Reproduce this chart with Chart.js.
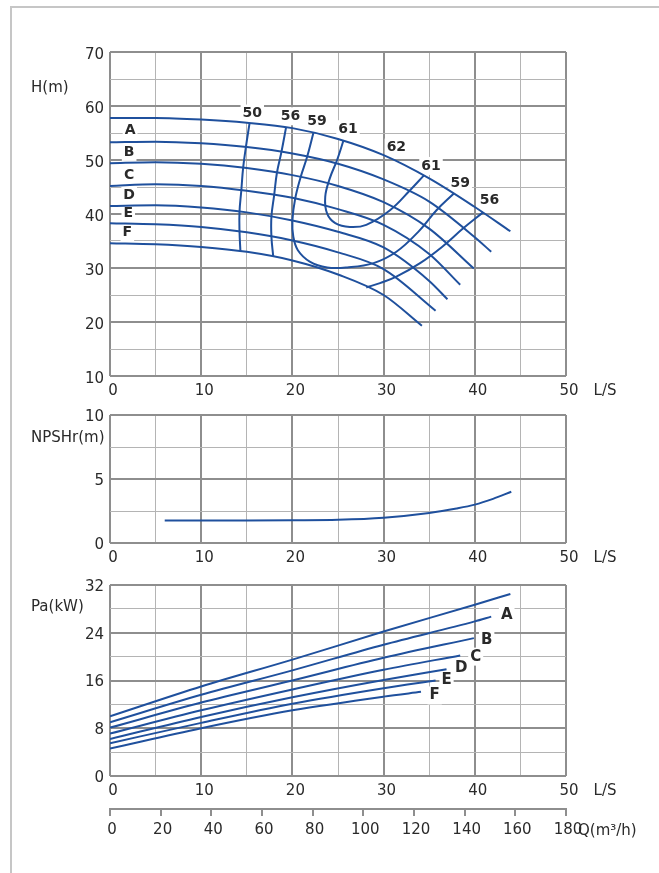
<!DOCTYPE html>
<html>
<head>
<meta charset="utf-8">
<script src="https://cdn.jsdelivr.net/npm/chart.js@4.4.1/dist/chart.umd.min.js"></script>
<style>
  html, body { margin: 0; padding: 0; background: #fff; }
  #page { position: relative; width: 659px; height: 873px; overflow: hidden; background: #fff; }
  #frame { position: absolute; left: 10px; top: 6px; width: 700px; height: 900px;
           border-top: 2px solid #c6c6c6; border-left: 2px solid #c6c6c6; }
  canvas { position: absolute; left: 0; }
</style>
</head>
<body>
<div id="page">
  <div id="frame"></div>
  <canvas id="headChart" width="659" height="400" style="top:0"></canvas>
  <canvas id="npshChart" width="659" height="170" style="top:400px"></canvas>
  <canvas id="powerChart" width="659" height="303" style="top:570px"></canvas>
</div>
<script>
// ---- Q-H curves (flow L/S, head m), top curve first ----
const headFlow1 = [0, 5, 10, 15, 20, 25, 30, 35, 40, 43.9];
const headVals1 = [57.8, 57.8, 57.5, 56.9, 55.9, 53.9, 50.9, 46.6, 41.3, 36.8];
const headFlow2 = [0, 5, 10, 15, 20, 25, 30, 35, 40, 41.8];
const headVals2 = [53.3, 53.4, 53.1, 52.4, 51.2, 49.3, 46.4, 42.3, 35.7, 33.0];
const headFlow3 = [0, 5, 10, 15, 20, 25, 30, 35, 39.9];
const headVals3 = [49.4, 49.6, 49.3, 48.5, 47.2, 45.2, 42.2, 37.3, 29.9];
const headFlow4 = [0, 5, 10, 15, 20, 25, 30, 35, 38.4];
const headVals4 = [45.2, 45.5, 45.2, 44.3, 43.0, 40.9, 38.0, 32.6, 26.9];
const headFlow5 = [0, 5, 10, 15, 20, 25, 30, 35, 37.0];
const headVals5 = [41.5, 41.6, 41.2, 40.3, 38.8, 36.7, 33.8, 27.6, 24.2];
const headFlow6 = [0, 5, 10, 15, 20, 25, 30, 35.7];
const headVals6 = [38.3, 38.1, 37.6, 36.6, 35.1, 32.9, 29.8, 22.1];
const headFlow7 = [0, 5, 10, 15, 20, 25, 30, 34.2];
const headVals7 = [34.6, 34.4, 33.9, 33.0, 31.4, 28.8, 25.0, 19.3];

// ---- iso-efficiency lines (flow, head) ----
const eff50Flow = [15.3, 14.9, 14.6, 14.4, 14.2, 14.2, 14.3];
const eff50Head = [56.8, 52.4, 48.6, 44.4, 40.4, 36.8, 33.1];
const eff56Flow = [19.3, 18.8, 18.3, 18.0, 17.7, 17.7, 17.9];
const eff56Head = [56.0, 51.5, 47.6, 43.5, 39.5, 35.8, 32.1];
const eff59Flow = [22.3, 21.6, 20.9, 20.3, 20.0, 20.1, 20.6, 21.9, 23.8, 26.0, 28.9, 31.4, 33.8, 35.8, 37.7];
const eff59Head = [55.0, 50.5, 46.8, 42.8, 38.8, 35.8, 33.3, 31.2, 30.1, 30.1, 30.9, 33.0, 36.7, 40.7, 43.8];
const eff61Flow = [25.6, 24.9, 24.1, 23.6, 23.8, 24.7, 26.3, 28.1, 30.7, 32.9, 34.4];
const eff61Head = [53.6, 50.0, 46.6, 43.2, 40.1, 38.3, 37.6, 38.0, 40.7, 44.4, 47.1];
const eff56bFlow = [40.9, 38.7, 36.4, 34.0, 31.4, 29.6, 28.1];
const eff56bHead = [40.3, 37.3, 33.9, 30.9, 28.4, 27.2, 26.4];

// ---- NPSHr ----
const npshFlow = [6, 10, 15, 20, 25, 30, 35, 38, 40, 42, 44];
const npshVals = [1.75, 1.75, 1.76, 1.78, 1.82, 1.98, 2.35, 2.7, 3.0, 3.45, 4.0];

// ---- shaft power (flow L/S, kW), top curve first ----
const powFlow1 = [0, 10, 20, 30, 40, 43.9];
const powVals1 = [10.0, 15.0, 19.5, 24.2, 28.7, 30.5];
const powFlow2 = [0, 10, 20, 30, 40, 41.8];
const powVals2 = [9.0, 13.6, 17.7, 22.0, 25.9, 26.7];
const powFlow3 = [0, 10, 20, 30, 39.9];
const powVals3 = [8.1, 12.3, 16.0, 19.8, 23.1];
const powFlow4 = [0, 10, 20, 30, 38.4];
const powVals4 = [7.1, 11.0, 14.5, 17.8, 20.2];
const powFlow5 = [0, 10, 20, 30, 36.9];
const powVals5 = [6.2, 9.9, 13.2, 16.1, 17.9];
const powFlow6 = [0, 10, 20, 30, 35.7];
const powVals6 = [5.5, 8.9, 12.1, 14.7, 16.0];
const powFlow7 = [0, 10, 20, 30, 34.1];
const powVals7 = [4.6, 8.0, 11.0, 13.3, 14.1];

// ---- text labels placed in data space ----
const curveNames = ['A', 'B', 'C', 'D', 'E', 'F'];
const headLabelQ = [2.2, 2.1, 2.1, 2.1, 2.0, 1.9];
const headLabelH = [55.4, 51.5, 47.2, 43.5, 40.1, 36.6];
const effNames = ['50', '56', '59', '61', '62', '61', '59', '56'];
const effLabelQ = [15.6, 19.8, 22.7, 26.1, 31.4, 35.2, 38.4, 41.6];
const effLabelH = [58.6, 58.1, 57.1, 55.7, 52.3, 48.9, 45.6, 42.5];
const powLabelQ = [43.5, 41.3, 40.1, 38.5, 36.9, 35.6];
const powLabelP = [26.9, 22.8, 20.0, 18.1, 16.0, 13.5];

const BLUE = '#1f509d';
const TEXT = '#2a2a2a';
const GRID_MAJOR = '#8e8e8e';
const GRID_MINOR = '#b4b4b4';
const FONT = "'DejaVu Sans', Verdana, sans-serif";

Chart.defaults.font.family = FONT;
Chart.defaults.font.size = 15;
Chart.defaults.color = TEXT;

function pts(xs, ys) {
    return xs.map((x, i) => ({ x: x, y: ys[i] }));
}

function curve(xs, ys, smooth) {
    return {
        data: pts(xs, ys),
        showLine: true,
        borderColor: BLUE,
        borderWidth: 2,
        pointRadius: 0,
        fill: false,
        cubicInterpolationMode: smooth ? 'monotone' : 'default',
        tension: 0.4
    };
}

const isStep = (v, step) => Math.abs(v / step - Math.round(v / step)) < 1e-6;

function makeGrid(majorStep) {
    return {
        drawTicks: false,
        color: c => (c.tick && isStep(c.tick.value, majorStep)) ? GRID_MAJOR : GRID_MINOR,
        lineWidth: c => (c.tick && isStep(c.tick.value, majorStep)) ? 2 : 1
    };
}

function axis(min, max, step, labelStep, pad, shift, fit) {
    return {
        type: 'linear',
        min: min,
        max: max,
        ticks: {
            stepSize: step,
            autoSkip: false,
            maxRotation: 0,
            padding: pad,
            labelOffset: shift,
            color: TEXT,
            callback: v => isStep(v, labelStep) ? v : ''
        },
        grid: makeGrid(labelStep),
        border: { display: false },
        afterFit: fit
    };
}

function writeText(ctx, text, x, y, font, align, withBg) {
    ctx.save();
    ctx.font = font;
    ctx.textAlign = align || 'center';
    ctx.textBaseline = 'middle';
    if (withBg) {
        const w = ctx.measureText(text).width;
        const left = align === 'left' ? x : x - w / 2;
        ctx.fillStyle = '#fff';
        ctx.fillRect(left - 2, y - 9, w + 4, 18);
    }
    ctx.fillStyle = TEXT;
    ctx.fillText(text, x, y);
    ctx.restore();
}

// labels drawn on top of the grid but under the curves
function labelPlugin(id, items) {
    return {
        id: id,
        beforeDatasetsDraw(chart) {
            const xs = chart.scales.x, ys = chart.scales.y;
            items.forEach(it => {
                writeText(chart.ctx, it.text, xs.getPixelForValue(it.x), ys.getPixelForValue(it.y),
                          it.font, 'center', true);
            });
        }
    };
}

// axis names and units around the plot
function framePlugin(id, title, titleDy, extra) {
    return {
        id: id,
        afterDraw(chart) {
            const a = chart.chartArea, ctx = chart.ctx;
            writeText(ctx, title, 31, a.top + titleDy, '15px ' + FONT, 'left', false);
            writeText(ctx, 'L/S', a.right + 39, a.bottom + 15, '15px ' + FONT, 'center', false);
            if (extra) extra(chart);
        }
    };
}

const baseOptions = (padTop) => ({
    responsive: false,
    animation: false,
    events: [],
    layout: { autoPadding: false, padding: { left: 0, top: padTop, right: 93, bottom: 0 } },
    plugins: { legend: { display: false }, tooltip: { enabled: false } }
});

// ---------- H chart ----------
const headLabels = [];
curveNames.forEach((n, i) => headLabels.push({ text: n, x: headLabelQ[i], y: headLabelH[i], font: 'bold 14px ' + FONT }));
effNames.forEach((n, i) => headLabels.push({ text: n, x: effLabelQ[i], y: effLabelH[i], font: 'bold 14px ' + FONT }));

const headOpts = baseOptions(52);
headOpts.scales = {
    x: axis(0, 50, 5, 10, 6, 3, s => { s.height = 24; }),
    y: axis(10, 70, 5, 10, 6, 3, s => { s.width = 110; })
};

new Chart(document.getElementById('headChart'), {
    type: 'scatter',
    data: {
        datasets: [
            curve(headFlow1, headVals1, true),
            curve(headFlow2, headVals2, true),
            curve(headFlow3, headVals3, true),
            curve(headFlow4, headVals4, true),
            curve(headFlow5, headVals5, true),
            curve(headFlow6, headVals6, true),
            curve(headFlow7, headVals7, true),
            curve(eff50Flow, eff50Head, false),
            curve(eff56Flow, eff56Head, false),
            curve(eff59Flow, eff59Head, false),
            curve(eff61Flow, eff61Head, false),
            curve(eff56bFlow, eff56bHead, false)
        ]
    },
    options: headOpts,
    plugins: [labelPlugin('headLabels', headLabels), framePlugin('headFrame', 'H(m)', 36)]
});

// ---------- NPSHr chart ----------
const npshOpts = baseOptions(14);
npshOpts.scales = {
    x: axis(0, 50, 5, 10, 6, 3, s => { s.height = 27; }),
    y: axis(0, 10, 2.5, 5, 6, 2, s => { s.width = 110; })
};

new Chart(document.getElementById('npshChart'), {
    type: 'scatter',
    data: { datasets: [curve(npshFlow, npshVals, true)] },
    options: npshOpts,
    plugins: [framePlugin('npshFrame', 'NPSHr(m)', 23)]
});

// ---------- Power chart ----------
const powLabels = curveNames.map((n, i) => ({ text: n, x: powLabelQ[i], y: powLabelP[i], font: 'bold 15px ' + FONT }));

const powOpts = baseOptions(14);
powOpts.scales = {
    x: Object.assign(axis(0, 50, 5, 10, 6, 3, s => { s.height = 33; }), { weight: 0 }),
    x2: {
        type: 'linear',
        position: 'bottom',
        weight: 1,
        min: 0,
        max: 180,
        ticks: { stepSize: 20, autoSkip: false, maxRotation: 0, padding: 5, labelOffset: 2, color: TEXT },
        grid: { drawOnChartArea: false, drawTicks: true, tickLength: 7, color: GRID_MAJOR, lineWidth: 2 },
        border: { display: true, color: GRID_MAJOR, width: 2 },
        afterFit: s => { s.height = 64; }
    },
    y: axis(0, 32, 4, 8, 6, 2, s => { s.width = 110; })
};

new Chart(document.getElementById('powerChart'), {
    type: 'scatter',
    data: {
        datasets: [
            curve(powFlow1, powVals1, true),
            curve(powFlow2, powVals2, true),
            curve(powFlow3, powVals3, true),
            curve(powFlow4, powVals4, true),
            curve(powFlow5, powVals5, true),
            curve(powFlow6, powVals6, true),
            curve(powFlow7, powVals7, true)
        ]
    },
    options: powOpts,
    plugins: [
        labelPlugin('powLabels', powLabels),
        framePlugin('powFrame', 'Pa(kW)', 22, chart => {
            const a = chart.chartArea;
            writeText(chart.ctx, 'Q(m³/h)', a.right + 12, a.bottom + 55, '15px ' + FONT, 'left', false);
        })
    ]
});
</script>
</body>
</html>
